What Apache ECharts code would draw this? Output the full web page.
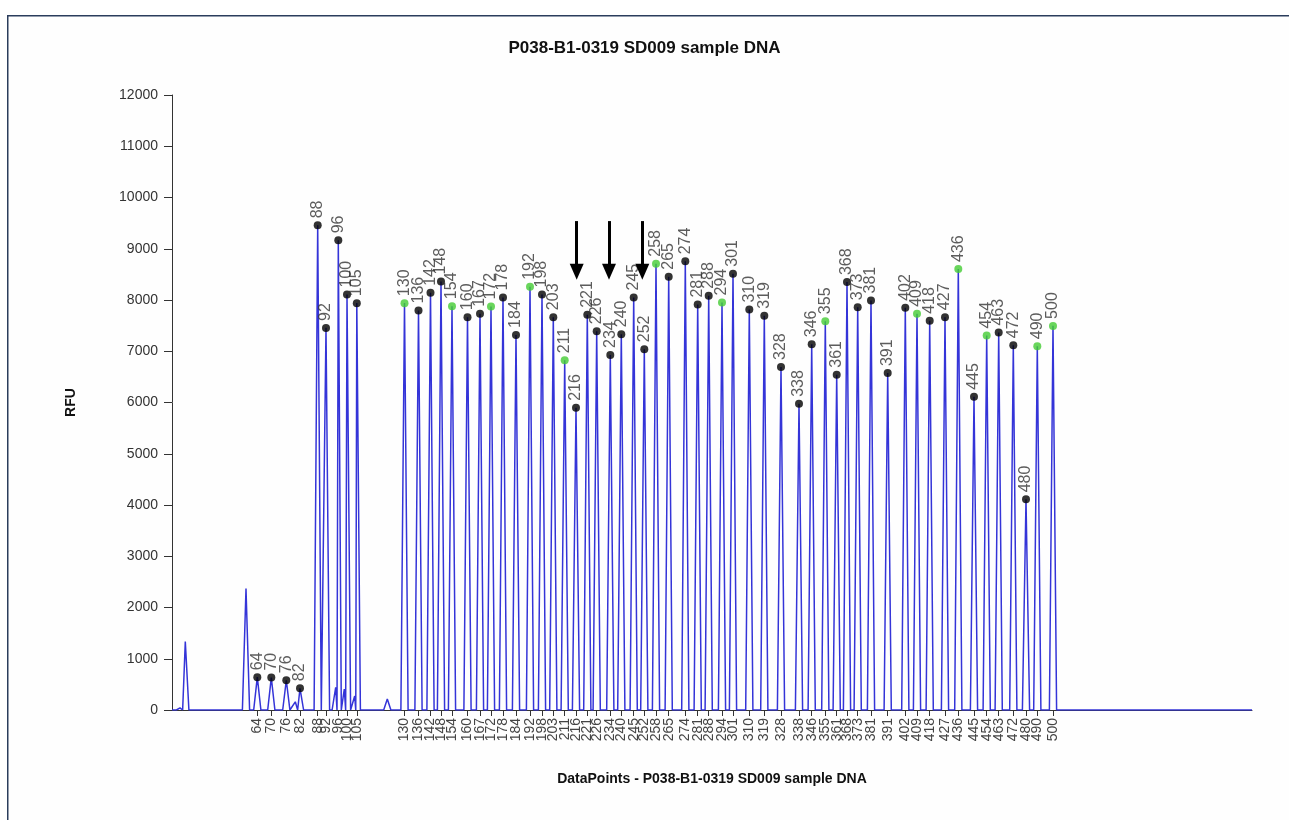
<!DOCTYPE html>
<html>
<head>
<meta charset="utf-8">
<script src="https://cdn.jsdelivr.net/npm/echarts@6/dist/echarts.min.js"></script>
<style>
html,body{margin:0;padding:0;background:#fff;}
#chart{width:1289px;height:820px;}
</style>
</head>
<body>
<div id="chart"></div>
<script>
// Sized peaks: size label, position (data points), height (RFU)
const SIZES = [64,70,76,82,88,92,96,100,105,130,136,142,148,154,160,167,172,178,184,192,198,203,211,216,221,226,234,240,245,252,258,265,274,281,288,294,301,310,319,328,338,346,355,361,368,373,381,391,402,409,418,427,436,445,454,463,472,480,490,500];
const POSITIONS = [85.3,99.3,114.3,128,145.7,154,166.3,175,184.8,232.5,246.5,258.5,269,280,295.5,308,319,331,344,358,370,381.3,392.7,404,415.3,424.7,438.3,449.3,461.7,472.3,484,496.7,513.3,525.7,536.7,550,561,577.3,592.3,609,627,639.7,653.3,664.7,675,685.7,699,715.7,733.3,745,757.7,773,786.3,802,814.7,826.7,841.3,854,865.3,881];
const HEIGHTS = [640,632,581,424,9457,7456,9164,8107,7939,7939,7795,8140,8362,7880,7665,7730,7873,8049,7319,8258,8107,7665,6824,5896,7710,7391,6927,7332,8049,7039,8708,8454,8754,7911,8082,7951,8512,7814,7691,6693,5975,7137,7587,6542,8350,7860,7990,6575,7847,7730,7593,7665,8604,6111,7305,7364,7117,4110,7098,7495];
const GREEN_SIZES = [130,154,172,192,211,258,294,355,409,436,454,490,500];
// Unlabelled peaks in the trace
const EXTRA_X = [8,13.3,74,123.3,163.7,172.3,182.7,215.3];
const EXTRA_H = [40,1336,2370,160,444,410,274,215];
// Annotation arrows: x, top RFU, tip RFU
const ARROWS = [[404.7,9540,8550],[437,9540,8550],[470.3,9540,8550]];
const X_MAX = 1080;
const Y_TICKS = {min:0,max:12000,interval:1000};

const HALF_W = 3.6;
const peaks = POSITIONS.map((x,i)=>[x,HEIGHTS[i]]).concat(EXTRA_X.map((x,i)=>[x,EXTRA_H[i]])).sort((a,b)=>a[0]-b[0]);
const trace = [[0,0]];
peaks.forEach((p,i)=>{
  const prevX = i>0 ? peaks[i-1][0] : -1e9;
  const nextX = i<peaks.length-1 ? peaks[i+1][0] : 1e9;
  const lf = Math.max(p[0]-HALF_W,(prevX+p[0])/2);
  const rf = Math.min(p[0]+HALF_W,(p[0]+nextX)/2);
  trace.push([lf,0],[p[0],p[1]],[rf,0]);
});
trace.push([X_MAX,0]);

const markers = SIZES.map((s,i)=>({
  value:[POSITIONS[i],HEIGHTS[i],String(s)],
  itemStyle:{color: GREEN_SIZES.includes(s) ? '#44cc33' : '#000000'}
}));

function labelFor(v){
  for(let i=0;i<POSITIONS.length;i++){ if(Math.abs(POSITIONS[i]-v)<0.01) return String(SIZES[i]); }
  return '';
}

const FONT = 'Liberation Sans, Arial, sans-serif';
const chart = echarts.init(document.getElementById('chart'));
chart.setOption({
  animation:false,
  backgroundColor:'#ffffff',
  textStyle:{fontFamily:FONT},
  title:{
    text:'P038-B1-0319 SD009 sample DNA',
    left:'center', top:35,
    textStyle:{fontSize:17,fontWeight:'bold',color:'#111',fontFamily:FONT}
  },
  graphic:[{
    type:'rect', left:7, top:15, z:-10,
    shape:{x:0,y:0,width:1300,height:820},
    style:{fill:'#fefefe',stroke:'#2b3d5c',lineWidth:1.5}
  }],
  grid:{left:172,right:37,top:95,bottom:110,containLabel:false},
  xAxis:{
    type:'value', min:0, max:X_MAX,
    name:'DataPoints - P038-B1-0319 SD009 sample DNA',
    nameLocation:'middle', nameGap:62,
    nameTextStyle:{fontSize:14,fontWeight:'bold',color:'#111',fontFamily:FONT},
    splitLine:{show:false},
    axisLine:{show:true,lineStyle:{color:'#333',width:1}},
    axisTick:{show:true,length:6,customValues:POSITIONS,lineStyle:{color:'#333'}},
    axisLabel:{show:true,customValues:POSITIONS,rotate:90,margin:8,fontSize:14,color:'#444',fontFamily:FONT,formatter:labelFor}
  },
  yAxis:{
    type:'value', min:Y_TICKS.min, max:Y_TICKS.max, interval:Y_TICKS.interval,
    name:'RFU', nameLocation:'middle', nameGap:94, nameRotate:90,
    nameTextStyle:{fontSize:14,fontWeight:'bold',color:'#111',fontFamily:FONT},
    splitLine:{show:false},
    axisLine:{show:true,lineStyle:{color:'#333',width:1}},
    axisTick:{show:true,length:8,lineStyle:{color:'#333'}},
    axisLabel:{fontSize:14,color:'#333',margin:14,fontFamily:FONT,formatter:v=>String(v)}
  },
  series:[
    {
      type:'line', data:trace, showSymbol:false, symbol:'none',
      lineStyle:{color:'#3434d8',width:1.5}, z:2, silent:true
    },
    {
      type:'scatter', data:markers, symbolSize:8, z:4,
      label:{
        show:true, position:'top', distance:3, rotate:90, align:'left', verticalAlign:'middle',
        fontSize:16, color:'#333', fontFamily:FONT,
        formatter:p=>p.value[2]
      },
      markLine:{
        silent:true, symbol:['none','triangle'], symbolSize:[14,16],
        lineStyle:{color:'#000',width:3,type:'solid'},
        label:{show:false},
        data:ARROWS.map(a=>[{coord:[a[0],a[1]]},{coord:[a[0],a[2]]}])
      }
    }
  ]
});
</script>
</body>
</html>
